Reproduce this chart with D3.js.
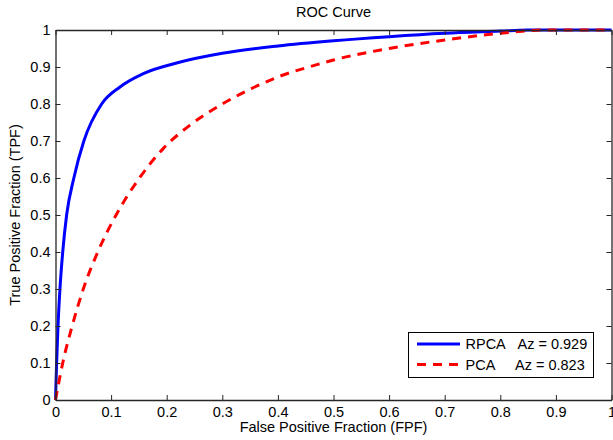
<!DOCTYPE html>
<html>
<head>
<meta charset="utf-8">
<script src="https://cdn.jsdelivr.net/npm/d3@7"></script>
<style>
  body { margin: 0; background: #fff; }
  svg { display: block; font-family: "Liberation Sans", Arial, Helvetica, sans-serif; }
</style>
</head>
<body>
<svg id="chart" width="613" height="440"></svg>
<script>
// ---- data ----
const rpcaFPF = [0, 0.002, 0.0045, 0.008, 0.013, 0.020, 0.033, 0.051, 0.083, 0.116, 0.158, 0.221, 0.3, 0.4, 0.5, 0.6, 0.7, 0.8, 0.85, 1.0];
const rpcaTPF = [0, 0.1, 0.2, 0.3, 0.4, 0.5, 0.6, 0.7, 0.8, 0.846, 0.882, 0.912, 0.937, 0.957, 0.971, 0.982, 0.991, 0.997, 1.0, 1.0];
const pcaFPF = [0, 0.013, 0.030, 0.050, 0.076, 0.109, 0.151, 0.194, 0.242, 0.3, 0.353, 0.4, 0.467, 0.5, 0.6, 0.7, 0.8, 0.88, 1.0];
const pcaTPF = [0, 0.1, 0.2, 0.3, 0.4, 0.5, 0.6, 0.68, 0.743, 0.80, 0.842, 0.873, 0.905, 0.919, 0.950, 0.973, 0.991, 1.0, 1.0];
const seriesNames = ["RPCA", "PCA"];
const azLabels = ["Az = 0.929", "Az = 0.823"];
const xTicks = [0, 0.1, 0.2, 0.3, 0.4, 0.5, 0.6, 0.7, 0.8, 0.9, 1];
const yTicks = [0, 0.1, 0.2, 0.3, 0.4, 0.5, 0.6, 0.7, 0.8, 0.9, 1];
const titleText = "ROC Curve";
const xLabelText = "False Positive Fraction (FPF)";
const yLabelText = "True Positive Fraction (TPF)";

// ---- layout ----
const pL = 55.5, pR = 611.5, pT = 30, pB = 400;
const fs = 14.5;
const svg = d3.select("#chart");
const x = d3.scaleLinear().domain([0, 1]).range([pL, pR]);
const y = d3.scaleLinear().domain([0, 1]).range([pB, pT]);
const fmt = d => String(d);

// curves
const series = [
  { fpf: rpcaFPF, tpf: rpcaTPF, color: "#0000ff", dash: null },
  { fpf: pcaFPF, tpf: pcaTPF, color: "#ff0000", dash: "9,7" }
];
const line = d3.line().x(d => x(d[0])).y(d => y(d[1])).curve(d3.curveMonotoneX);
series.forEach(s => {
  const pts = s.fpf.map((v, i) => [v, s.tpf[i]]);
  svg.append("path").datum(pts).attr("d", line)
    .attr("fill", "none").attr("stroke", s.color).attr("stroke-width", 3)
    .attr("stroke-dasharray", s.dash);
});

// axes (MATLAB-style inward ticks, box)
const tickLen = 5;
const axisColor = "#262626";
const bottomAxis = d3.axisBottom(x).tickValues(xTicks).tickFormat(fmt).tickSizeInner(-tickLen).tickSizeOuter(0).tickPadding(6.5);
const topAxis = d3.axisTop(x).tickValues(xTicks).tickFormat("").tickSizeInner(-tickLen).tickSizeOuter(0);
const leftAxis = d3.axisLeft(y).tickValues(yTicks).tickFormat(fmt).tickSizeInner(-tickLen).tickSizeOuter(0).tickPadding(5);
const rightAxis = d3.axisRight(y).tickValues(yTicks).tickFormat("").tickSizeInner(-tickLen).tickSizeOuter(0);

function styleAxis(g) {
  g.selectAll(".domain").attr("stroke", axisColor).attr("stroke-width", 1.3);
  g.selectAll(".tick line").attr("stroke", axisColor).attr("stroke-width", 1);
  g.selectAll(".tick text").attr("fill", "#000").attr("font-size", fs).attr("font-family", "Liberation Sans, Arial, sans-serif");
}
svg.append("g").attr("transform", `translate(0,${pB})`).call(bottomAxis).call(styleAxis);
svg.append("g").attr("transform", `translate(0,${pT})`).call(topAxis).call(styleAxis);
svg.append("g").attr("transform", `translate(${pL},0)`).call(leftAxis).call(styleAxis);
svg.append("g").attr("transform", `translate(${pR},0)`).call(rightAxis).call(styleAxis);

// title & labels
svg.append("text").attr("x", (pL + pR) / 2).attr("y", 17).attr("text-anchor", "middle")
  .attr("font-size", fs).attr("fill", "#000").text(titleText);
svg.append("text").attr("x", (pL + pR) / 2).attr("y", 432).attr("text-anchor", "middle")
  .attr("font-size", fs).attr("fill", "#000").text(xLabelText);
svg.append("text").attr("transform", `translate(20,${(pT + pB) / 2}) rotate(-90)`).attr("text-anchor", "middle")
  .attr("font-size", fs).attr("fill", "#000").text(yLabelText);

// legend
const lg = svg.append("g");
lg.append("rect").attr("x", 408.5).attr("y", 332.5).attr("width", 185).attr("height", 45)
  .attr("fill", "#fff").attr("stroke", "#000").attr("stroke-width", 1);
series.forEach((s, i) => {
  const yy = 344 + i * 20.5;
  lg.append("line").attr("x1", 417).attr("x2", 460).attr("y1", yy).attr("y2", yy)
    .attr("stroke", s.color).attr("stroke-width", 3).attr("stroke-dasharray", s.dash);
  lg.append("text").attr("x", 465.5).attr("y", yy + 5.2).attr("font-size", fs).attr("fill", "#000").text(seriesNames[i]);
  lg.append("text").attr("x", i === 0 ? 517.5 : 515).attr("y", yy + 5.2).attr("font-size", fs).attr("fill", "#000").text(azLabels[i]);
});
</script>
</body>
</html>
